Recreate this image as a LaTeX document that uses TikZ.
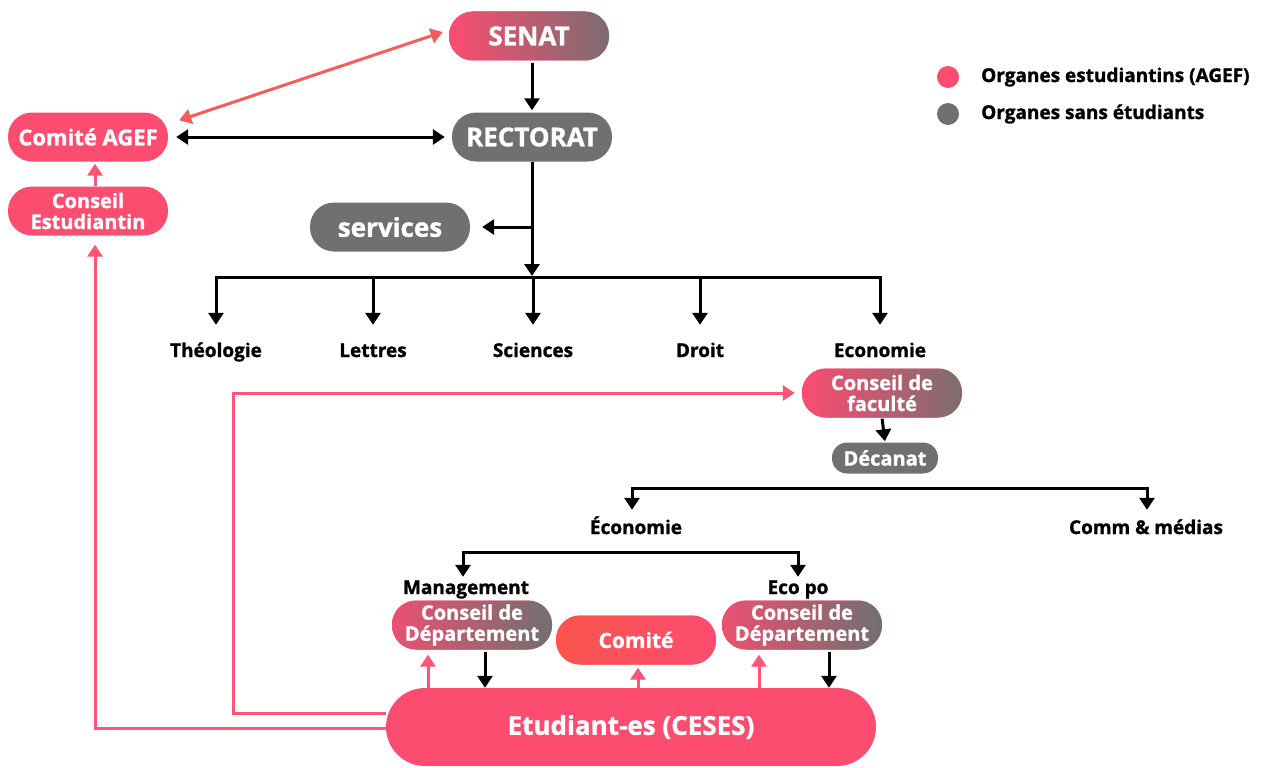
\documentclass[tikz,border=0pt]{standalone}
\usepackage{fontspec}
\setmainfont{Open Sans}[BoldFeatures={FakeBold=1.2}]
\usetikzlibrary{arrows.meta}

\definecolor{agefpink}{RGB}{252,76,112}
\definecolor{organgray}{RGB}{112,112,112}
\definecolor{linkpink}{RGB}{255,84,118}
\definecolor{senatred}{RGB}{246,92,92}
\definecolor{comiteorange}{RGB}{250,84,76}

\begin{document}
\begin{tikzpicture}[x=1pt, y=-1pt, font=\bfseries,
  pink node/.style={rounded corners=24pt, fill=agefpink, text=white, inner sep=0pt, align=center, minimum width=160pt, minimum height=49pt, font=\bfseries\fontsize{20}{21}\selectfont},
  gray node/.style={pink node, fill=organgray},
  big/.style={font=\bfseries\fontsize{26}{28}\selectfont},
  label node/.style={inner sep=0pt, text height=15pt, text depth=5pt, font=\bfseries\fontsize{19}{21}\selectfont},
  dot node/.style={circle, inner sep=0pt, minimum size=22pt},
  black line/.style={line width=3pt, draw=black},
  black arrow/.style={black line, -{Triangle[length=12pt,width=15pt]}},
  pink arrow/.style={line width=3pt, draw=linkpink, -{Triangle[length=12pt,width=15pt]}}]
\useasboundingbox (0,0) rectangle (1274,768);

% top of the university
\node[pink node, big, left color=agefpink, right color=organgray!92!agefpink](senat) at (529,36){SENAT};
\node[gray node, big](rectorat) at (532,137){RECTORAT};
\node[gray node, big](services) at (390,227){services};
\node[pink node, font=\bfseries\fontsize{22}{24}\selectfont](comite agef) at (88,137){Comité AGEF};
\node[pink node](conseil etu) at (88,211){Conseil\\Estudiantin};

% legend
\node[dot node, fill=agefpink](dot agef) at (948,77){};
\node[label node, anchor=west](leg agef) at (981,77){Organes estudiantins (AGEF)};
\node[dot node, fill=organgray](dot gray) at (948,114){};
\node[label node, anchor=west](leg gray) at (981,114){Organes sans étudiants};

% faculties
\node[label node](theologie) at (216,352){Théologie};
\node[label node](lettres) at (373,352){Lettres};
\node[label node](sciences) at (533,352){Sciences};
\node[label node](droit) at (700,352){Droit};
\node[label node](economie) at (880,352){Economie};
\node[pink node, left color=agefpink, right color=organgray!92!agefpink](conseil fac) at (882,393){Conseil de\\faculté};
\node[gray node, rounded corners=15pt, minimum width=106pt, minimum height=31pt](decanat) at (885,458){Décanat};

% sections and departments
\node[label node](section eco) at (636,529){Économie};
\node[label node](section comm) at (1146,529){Comm \& médias};
\node[label node](management) at (466,589){Management};
\node[label node](ecopo) at (798,589){Eco po};
\node[pink node, left color=agefpink!88!organgray, right color=organgray](dept man) at (472,625){Conseil de\\Département};
\node[pink node, left color=comiteorange, right color=agefpink, font=\bfseries\fontsize{21}{23}\selectfont](comite) at (636,640){Comité};
\node[pink node, left color=agefpink!88!organgray, right color=organgray](dept ecopo) at (802,625){Conseil de\\Département};
\node[pink node, rounded corners=39pt, minimum width=490pt, minimum height=78pt, font=\bfseries\fontsize{26}{28}\selectfont](etudiants) at (631,727){Etudiant-es (CESES)};

% free corners of the bars
\coordinate (fac bar) at (532,277);
\coordinate (sec bar l) at (632,488);
\coordinate (sec bar r) at (1147,488);
\coordinate (dep bar l) at (463,552);
\coordinate (dep bar r) at (798,552);
\coordinate (fac loop) at (233,550);

% links
\draw[line width=3pt, draw=senatred, {Triangle[length=12pt,width=15pt]}-{Triangle[length=12pt,width=15pt]}] ([shift={(11,8)}]comite agef.north east) -- ([shift={(-6,-4)}]senat.west);
\draw[black arrow, {Triangle[length=12pt,width=15pt]}-{Triangle[length=12pt,width=15pt]}, shorten <=8pt, shorten >=7pt] (comite agef.east) -- (rectorat.west);
\draw[black arrow, shorten <=2pt, shorten >=2pt] (rectorat.north |- senat.south) -- (rectorat.north);
\draw[black arrow, shorten >=1pt] (rectorat.south) -- (fac bar);
\draw[black arrow, shorten >=12pt] (rectorat.south |- services.east) -- (services.east);
\draw[black line, line cap=rect] (theologie |- fac bar) -- (economie |- fac bar);
\foreach \fac in {theologie, lettres, sciences, droit, economie}
  \draw[black arrow, shorten >=17pt] (\fac |- fac bar) -- (\fac.north);
\draw[black arrow, shorten <=1pt, shorten >=1pt] (conseil fac.south) -- (decanat.north);
\draw[black line, line cap=rect] (sec bar l) -- (sec bar r);
\draw[black arrow, shorten >=9pt] (sec bar l) -- (sec bar l |- section eco.north);
\draw[black arrow, shorten >=9pt] (sec bar r) -- (sec bar r |- section comm.north);
\draw[black line, line cap=rect] (dep bar l) -- (dep bar r);
\draw[black arrow, shorten >=2pt] (dep bar l) -- (dep bar l |- management.north);
\draw[black arrow, shorten >=2pt] (dep bar r) -- (dep bar r |- ecopo.north);

% students up, departments down
\draw[pink arrow, shorten >=5pt] ([xshift=-44pt]dept man.south |- etudiants.north) -- ([xshift=-44pt]dept man.south);
\draw[black arrow, shorten <=2pt] ([xshift=13pt]dept man.south) -- ([xshift=13pt]dept man.south |- etudiants.north);
\draw[pink arrow, shorten >=3pt] ([xshift=2pt]comite.south |- etudiants.north) -- ([xshift=2pt]comite.south);
\draw[pink arrow, shorten >=5pt] ([xshift=-43pt]dept ecopo.south |- etudiants.north) -- ([xshift=-43pt]dept ecopo.south);
\draw[black arrow, shorten <=2pt] ([xshift=27pt]dept ecopo.south) -- ([xshift=27pt]dept ecopo.south |- etudiants.north);
\draw[pink arrow, shorten >=7pt] ([yshift=14pt]etudiants.west) -| (fac loop) |- (conseil fac.west);
\draw[pink arrow, shorten >=9pt] ([yshift=-1pt]etudiants.west) -| ([xshift=7pt]conseil etu.south);
\draw[pink arrow, shorten >=2pt] ([xshift=7pt]conseil etu.north) -- ([xshift=7pt]comite agef.south);
\end{tikzpicture}
\end{document}
